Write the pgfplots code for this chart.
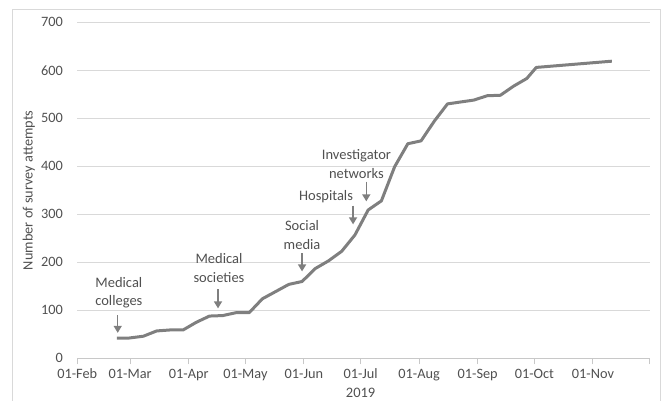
\documentclass[border=0pt]{standalone}
\usepackage{fontspec}
\setmainfont{Carlito}
\usepackage{pgfplots}
\pgfplotsset{compat=1.18}
\usetikzlibrary{arrows.meta}

\definecolor{linegray}{RGB}{127,127,127}
\definecolor{gridgray}{RGB}{217,217,217}
\definecolor{axisgray}{RGB}{200,200,200}
\definecolor{textgray}{RGB}{80,80,80}

\begin{document}
\begin{tikzpicture}[x=1pt,y=1pt]
\path[use as bounding box] (0,0) rectangle (662,401);
% chart area border
\draw[gridgray, line width=1pt] (12.7,-2) -- (12.7,391) -- (660,391) -- (660,-2);

\begin{axis}[
    at={(77.3pt,42.7pt)}, anchor=south west,
    scale only axis,
    width=572.3pt, height=336pt,
    xmin=0, xmax=303,
    ymin=0, ymax=700,
    clip=false,
    axis x line*=bottom,
    axis y line*=left,
    axis line style={-, axisgray, line width=1pt},
    y axis line style={draw=none},
    ytick={0,100,...,700},
    xtick={0,28,59,89,120,150,181,212,242,273,303},
    xticklabels={01-Feb,01-Mar,01-Apr,01-May,01-Jun,01-Jul,01-Aug,01-Sep,01-Oct,01-Nov,},
    tick align=outside,
    major tick length=6pt,
    xtick style={axisgray, line width=1pt},
    ytick style={draw=none},
    ymajorgrids,
    grid style={gridgray, line width=1pt},
    ticklabel style={font=\fontsize{14.3}{17}\selectfont, text=textgray},
    /pgf/number format/assume math mode=true,
    xticklabel style={yshift=-1pt},
    yticklabel style={xshift=-5pt},
    ylabel={Number of survey attempts},
    every axis y label/.style={at={(axis description cs:0,0.5)}, xshift=-48.6pt,
        rotate=90, anchor=center, font=\fontsize{14.3}{17}\selectfont, text=textgray},
]
\addplot[linegray, line width=3pt, line join=round] coordinates {
(21,42) (27,42) (35,46) (42,57) (49,59) (56,59) (63,75) (70,88) (77,89) (84,95)
(91,95) (98,124) (105,139) (112,154) (119,160) (126,187) (133,203) (140,223)
(147,257) (154,309) (161,328) (168,399) (175,447) (182,453) (189,494) (196,530)
(210,538) (217,547) (224,548) (231,567) (238,583) (243,606) (283,619)
};

\begin{scope}[every node/.style={font=\fontsize{14.5}{18.3}\selectfont, text=textgray, align=center}]
\node at (axis cs:22,137) {Medical\\colleges};
\node at (axis cs:75,188) {Medical\\societies};
\node at (axis cs:119,257) {Social\\media};
\node at (axis cs:131.7,337) {Hospitals};
\node at (axis cs:147.8,405) {Investigator\\networks};
\node at (axis cs:150,0) [yshift=-35pt] {2019};
\end{scope}

\begin{scope}[linegray, line width=1.5pt, -{Triangle[width=8pt,length=7pt]}]
\draw (axis cs:21.4,90) -- (axis cs:21.4,53);
\draw (axis cs:74.5,144) -- (axis cs:74.5,104);
\draw (axis cs:119,219) -- (axis cs:119,181);
\draw (axis cs:146,318) -- (axis cs:146,279);
\draw (axis cs:153,368) -- (axis cs:153,327);
\end{scope}
\end{axis}
\end{tikzpicture}
\end{document}
